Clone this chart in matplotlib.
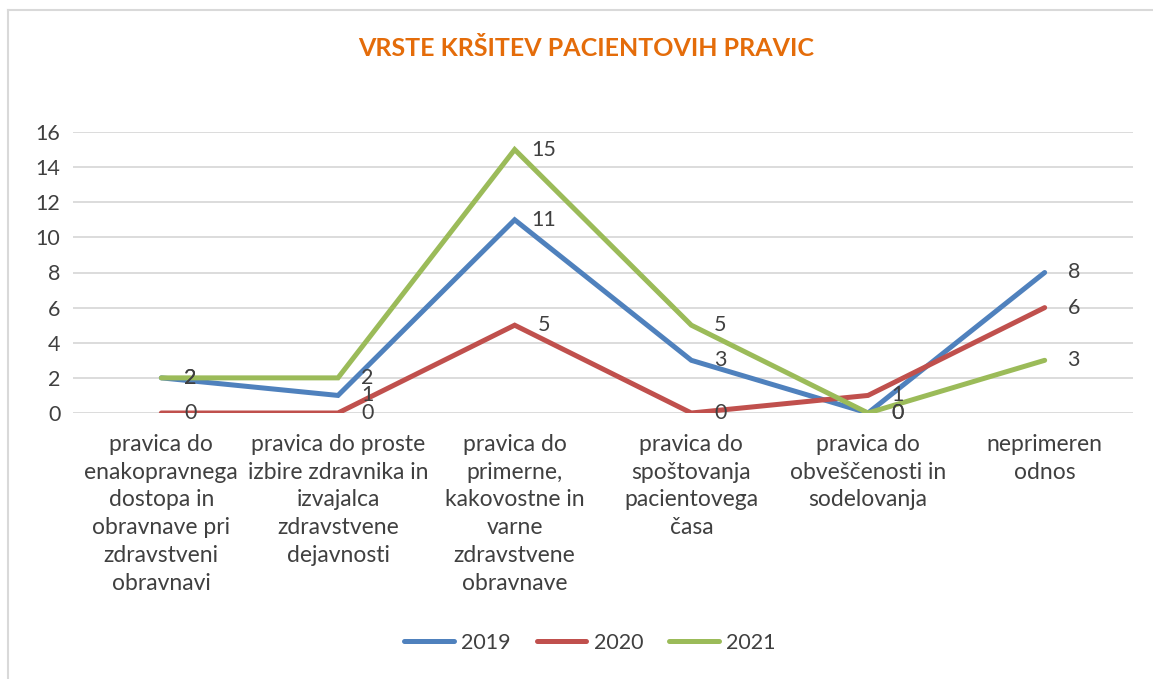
import matplotlib
matplotlib.use("Agg")
import matplotlib.pyplot as plt
from matplotlib.lines import Line2D

plt.rcParams['font.family'] = ['Lato', 'DejaVu Sans']

categories = [
    "pravica do\nenakopravnega\ndostopa in\nobravnave pri\nzdravstveni\nobravnavi",
    "pravica do proste\nizbire zdravnika in\nizvajalca\nzdravstvene\ndejavnosti",
    "pravica do\nprimerne,\nkakovostne in\nvarne\nzdravstvene\nobravnave",
    "pravica do\nspoštovanja\npacientovega\nčasa",
    "pravica do\nobveščenosti in\nsodelovanja",
    "neprimeren\nodnos",
]
series_names = ["2019", "2020", "2021"]
v2019 = [2, 1, 11, 3, 0, 8]
v2020 = [0, 0, 5, 0, 1, 6]
v2021 = [2, 2, 15, 5, 0, 3]
colors = ["#4F81BD", "#C0504D", "#9BBB59"]
yticks = [0, 2, 4, 6, 8, 10, 12, 14, 16]
title = "VRSTE KRŠITEV PACIENTOVIH PRAVIC"

W, H = 1153, 679
fig = plt.figure(figsize=(W / 100, H / 100), dpi=100)
ax = fig.add_axes([73 / W, 1 - 413 / H, (1133 - 73) / W, (413 - 132) / H])

text_col = "#404040"
fs = 15.5
x = list(range(len(categories)))
for vals, c, name in zip([v2019, v2020, v2021], colors, series_names):
    ax.plot(x, vals, color=c, lw=3.6, solid_capstyle="round", solid_joinstyle="miter", label=name, zorder=3)
    for xi, v in zip(x, vals):
        ax.annotate(str(v), (xi, v), xytext=(21, 0), textcoords="offset points",
                    ha="center", va="center", fontsize=fs, color=text_col, zorder=4)

ax.set_xlim(-0.5, len(categories) - 0.5)
ax.set_ylim(0, 16)
ax.set_yticks(yticks)
ax.set_yticklabels([str(t) for t in yticks], fontsize=fs, color=text_col)
ax.set_xticks(x)
ax.set_xticklabels(categories, fontsize=16.5, color=text_col, linespacing=1.4, va="top")
ax.tick_params(axis="both", length=0)
ax.tick_params(axis="y", pad=9)
ax.tick_params(axis="x", pad=15)
ax.grid(axis="y", color="#D9D9D9", lw=1.3)
ax.set_axisbelow(True)
for s in ax.spines.values():
    s.set_visible(False)

fig.text(586 / W, 1 - 48 / H, title, ha="center", va="center", fontsize=18,
         fontweight="bold", color="#E46C0A")

handles = [Line2D([0], [0], color=c, lw=3.6, solid_capstyle="round") for c in colors]
fig.legend(handles, series_names, loc="center", bbox_to_anchor=(590 / W, 1 - 643 / H),
           ncol=3, frameon=False, fontsize=fs, handlelength=2.3, columnspacing=1.2,
           labelcolor=text_col, handletextpad=0.35)

fig.add_artist(Line2D([8 / W, 8 / W], [0, 1 - 10 / H], color="#D9D9D9", lw=1.5, transform=fig.transFigure))
fig.add_artist(Line2D([8 / W, 1], [1 - 10 / H, 1 - 10 / H], color="#D9D9D9", lw=1.5, transform=fig.transFigure))

fig.savefig("out.png", dpi=100)
